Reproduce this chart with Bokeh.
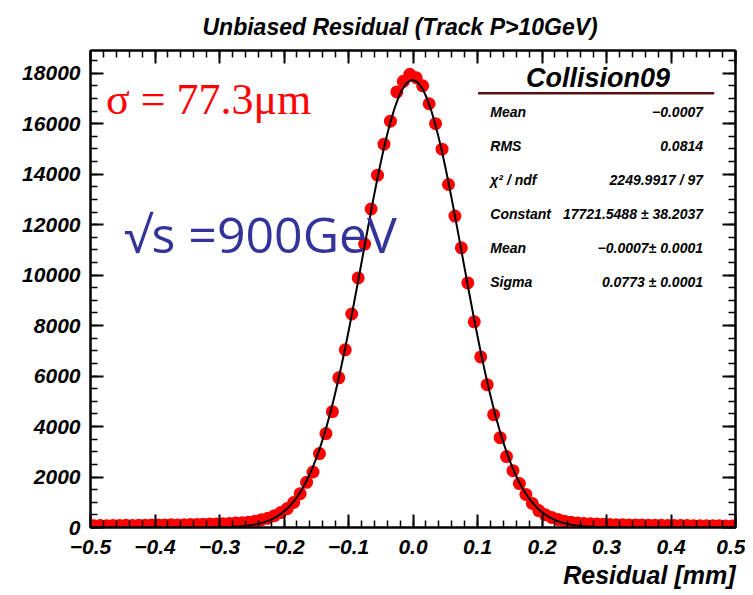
import numpy as np
from bokeh.plotting import figure
from bokeh.models import (Range1d, LinearAxis, SingleIntervalTicker, CustomJSTickFormatter,
                          Label, ColumnDataSource, Title)
from bokeh.core.properties import value
from bokeh.embed import file_html
from bokeh.resources import INLINE

# ---- data ----
bin_centers = [round(-0.495 + 0.01 * k, 3) for k in range(100)]
counts = [
    70, 75, 70, 80, 75, 85, 80, 90, 85, 95,
    95, 100, 105, 100, 110, 115, 120, 125, 135, 140,
    150, 160, 175, 190, 210, 250, 310, 370, 470, 590,
    750, 990, 1340, 1790, 2200, 2930, 3720, 4590, 5930, 7040,
    8460, 9890, 11230, 12620, 13960, 15190, 16100, 17260, 17680, 17960,
    17820, 17500, 16790, 16000, 14990, 13590, 12340, 11080, 9690, 8150,
    6760, 5660, 4470, 3560, 2810, 2250, 1740, 1310, 950, 670,
    510, 400, 320, 250, 210, 180, 160, 145, 135, 125,
    120, 110, 105, 100, 95, 95, 90, 85, 85, 80,
    80, 75, 75, 70, 70, 70, 65, 65, 60, 60,
]

# Gaussian fit parameters shown in the stats box
fit_constant = 17721.5488
fit_mean = -0.0007
fit_sigma = 0.0773

stat_labels = ["Mean", "RMS", "\u03c7\u00b2 / ndf", "Constant", "Mean", "Sigma"]
stat_values = ["\u22120.0007", "0.0814", "2249.9917 / 97", "17721.5488 \u00b1 38.2037",
               "\u22120.0007\u00b1 0.0001", "0.0773 \u00b1 0.0001"]

title_text = "Unbiased Residual (Track P>10GeV)"
xlabel_text = "Residual [mm]"
stats_title = "Collision09"

FONT = "Liberation Sans"

p = figure(width=745, height=595, x_range=Range1d(-0.5, 0.5), y_range=Range1d(0, 18900),
           output_backend="svg", toolbar_location=None,
           min_border_left=90, min_border_right=10, min_border_top=48, min_border_bottom=68)
p.xgrid.visible = False
p.ygrid.visible = False
p.outline_line_color = "black"
p.outline_line_width = 2
p.background_fill_color = "white"
p.border_fill_color = "white"

p.title.text = title_text
p.title.text_font = FONT
p.title.text_font_style = "bold italic"
p.title.text_font_size = "23px"
p.title.text_color = "black"
p.title.align = "left"
p.title.offset = 112
p.title.standoff = 22

xtick_fmt = CustomJSTickFormatter(code="""
    if (Math.abs(tick) < 1e-9) return '0.0';
    return tick.toFixed(1).replace('-', '\u2212');
""")
blank_fmt = CustomJSTickFormatter(code="return '';")

def style_axis(ax, show_labels):
    ax.axis_line_width = 2
    ax.major_tick_in = 13
    ax.major_tick_out = 0
    ax.minor_tick_in = 7
    ax.minor_tick_out = 0
    ax.major_tick_line_width = 2
    ax.minor_tick_line_width = 1.5
    ax.major_label_text_font = FONT
    ax.major_label_text_font_style = "bold italic"
    ax.major_label_text_font_size = "21px"
    ax.major_label_text_color = "black"
    if not show_labels:
        ax.formatter = blank_fmt
        ax.major_label_standoff = 0

xb = p.xaxis[0]
xb.ticker = SingleIntervalTicker(interval=0.1, num_minor_ticks=5)
xb.formatter = xtick_fmt
style_axis(xb, True)
xb.major_label_standoff = 12

yl = p.yaxis[0]
yl.ticker = SingleIntervalTicker(interval=2000, num_minor_ticks=4)
style_axis(yl, True)
yl.major_label_standoff = 10

xt = LinearAxis(ticker=SingleIntervalTicker(interval=0.1, num_minor_ticks=5))
style_axis(xt, False)
p.add_layout(xt, "above")
yr = LinearAxis(ticker=SingleIntervalTicker(interval=2000, num_minor_ticks=4))
style_axis(yr, False)
p.add_layout(yr, "right")

# x axis label (right aligned, ROOT style)
p.add_layout(Title(text=xlabel_text, align="right", text_font=FONT,
                   text_font_style="bold italic", text_font_size="25px",
                   text_color="black", standoff=5), "below")

# data points
src = ColumnDataSource(dict(x=bin_centers, y=counts))
p.scatter("x", "y", source=src, size=13, color="#ff0000", line_color=None)

# fit curve from the fit parameters
xf = np.linspace(-0.5, 0.5, 501)
yf = fit_constant * np.exp(-0.5 * ((xf - fit_mean) / fit_sigma) ** 2)
p.line(xf, yf, line_color="black", line_width=2)

# stats box
p.add_layout(Label(x=0.287, y=17800, text=stats_title, text_font=FONT,
                   text_font_style="bold italic", text_font_size="27px", text_color="black",
                   text_align="center", text_baseline="middle"))
p.line([0.101, 0.467], [17207, 17207], line_color="#5a1010", line_width=2.5)
row_y = [16455, 15110, 13770, 12420, 11075, 9730]
p.text(x=[0.1198] * 6, y=row_y, text=stat_labels, text_font=value(FONT),
       text_font_style="bold italic", text_font_size="14px",
       text_align="left", text_baseline="middle", text_color="black")
p.text(x=[0.4496] * 6, y=row_y, text=stat_values, text_font=value(FONT),
       text_font_style="bold italic", text_font_size="14px",
       text_align="right", text_baseline="middle", text_color="black")

# annotations
p.add_layout(Label(x=-0.476, y=16970, text="\u03c3 = 77.3\u03bcm", text_font="Liberation Serif",
                   text_font_size="44px", text_color="#ff0000",
                   text_align="left", text_baseline="alphabetic"))
p.add_layout(Label(x=-0.448, y=11630, text="\u221as =900GeV", text_font="Open Sans",
                   text_font_size="50px", text_color="#333399",
                   text_align="left", text_baseline="alphabetic"))

open("out.html", "w").write(file_html(p, INLINE))
